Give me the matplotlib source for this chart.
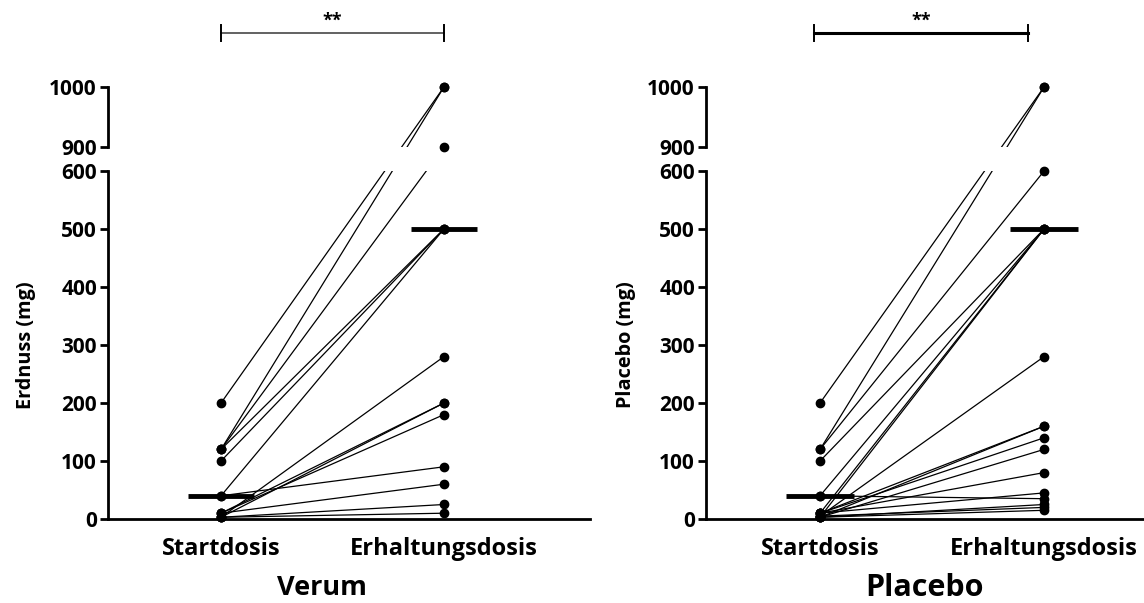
import numpy as np
import matplotlib.pyplot as plt

plt.rcParams['font.family'] = ['Open Sans', 'DejaVu Sans']
plt.rcParams['font.weight'] = 'bold'

groups = ['Startdosis', 'Erhaltungsdosis']

# Verum: Startdosis -> Erhaltungsdosis (mg), one pair per Patient
verum_start = [200, 120, 120, 120, 100, 40, 40, 3, 10, 3, 10, 10, 3, 3]
verum_end = [1000, 1000, 900, 500, 500, 500, 90, 280, 200, 200, 180, 60, 25, 10]
verum_median = [40, 500]

# Placebo
placebo_start = [200, 120, 120, 100, 40, 10, 3, 5, 10, 3, 10, 3, 10, 40, 10, 3, 5, 3]
placebo_end = [1000, 1000, 600, 500, 500, 500, 500, 280, 160, 160, 140, 120, 80, 35, 45, 25, 20, 15]
placebo_median = [40, 500]

yticks = [0, 100, 200, 300, 400, 500, 600, 900, 1000]

# broken axis: 600..900 squeezed into a small gap
G = 0.138
K = 1.034


def fwd(v):
    v = np.asarray(v, dtype=float)
    return np.where(v <= 600, v,
                    np.where(v <= 900, 600 + (v - 600) * G,
                             600 + 300 * G + (v - 900) * K))


def inv(u):
    u = np.asarray(u, dtype=float)
    top = 600 + 300 * G
    return np.where(u <= 600, u,
                    np.where(u <= top, 600 + (u - 600) / G,
                             900 + (u - top) / K))


W, H = 1144, 603
fig = plt.figure(figsize=(W / 100, H / 100), dpi=100)


def panel(rect, xlim, start, end, median, ylabel, xlabel, ylab_x, xlab_pos, xlab_size,
          bracket, bcolor, blw):
    ax = fig.add_axes(rect)
    ax.set_yscale('function', functions=(fwd, inv))
    ax.set_ylim(0, 1000)
    ax.set_xlim(*xlim)
    ax.set_axisbelow(False)

    for s, e in zip(start, end):
        ax.plot([0, 1], [s, e], color='black', lw=0.9, zorder=2)
    ax.plot(np.zeros(len(start)), start, 'o', color='black', ms=6, zorder=4, clip_on=False)
    ax.plot(np.ones(len(end)), end, 'o', color='black', ms=6, zorder=4, clip_on=False)
    for i, m in enumerate(median):
        ax.plot([i - 0.15, i + 0.15], [m, m], color='black', lw=3.5, zorder=3,
                solid_capstyle='butt')

    # hide everything inside the axis break
    ax.axhspan(600, 900, color='white', zorder=2.2, lw=0)

    for sp in ['top', 'right', 'left']:
        ax.spines[sp].set_visible(False)
    ax.spines['bottom'].set_linewidth(2)
    yt = ax.get_yaxis_transform()
    ax.plot([0, 0], [0, 600], color='black', lw=2, transform=yt, clip_on=False, zorder=5)
    ax.plot([0, 0], [900, 1000], color='black', lw=2, transform=yt, clip_on=False, zorder=5)

    ax.set_yticks(yticks)
    ax.set_yticks([600, 900], minor=True)
    ax.tick_params(axis='y', which='major', length=6, width=2, pad=2, labelsize=15)
    ax.tick_params(axis='y', which='minor', direction='in', length=6.5, width=2)
    ax.set_xticks([0, 1])
    ax.set_xticklabels(groups)
    ax.tick_params(axis='x', length=0, pad=13, labelsize=17)

    ax.set_ylabel(ylabel, fontsize=14.3, fontweight='bold')
    ax.yaxis.set_label_coords(ylab_x, 0.403)
    ax.set_xlabel(xlabel, fontsize=xlab_size, fontweight='bold')
    ax.xaxis.set_label_coords(*xlab_pos)

    # significance bracket
    xt = ax.get_xaxis_transform()
    b0, b1 = bracket
    yb = 1.125
    ax.plot([b0, b1], [yb, yb], color=bcolor, lw=blw, transform=xt, clip_on=False)
    for bx in (b0, b1):
        ax.plot([bx, bx], [yb - 0.018, yb + 0.018], color='black', lw=1.4,
                transform=xt, clip_on=False)
    ax.text((b0 + b1) / 2, yb + 0.008, '**', transform=xt, ha='center', va='bottom',
            fontsize=13, fontweight='bold')
    return ax


bottom = (H - 519) / H
height = 432 / H
panel([108 / W, bottom, 482 / W, height], (-0.507, 1.655), verum_start, verum_end,
      verum_median, 'Erdnuss (mg)', 'Verum', -0.15, (0.444, -0.13), 19.5,
      (0, 1), '#555555', 1.3)
panel([706 / W, bottom, 438 / W, height], (-0.509, 1.446), placebo_start, placebo_end,
      placebo_median, 'Placebo (mg)', 'Placebo', -0.16, (0.5, -0.124), 22,
      (-0.027, 0.929), 'black', 2.2)

fig.savefig('out.png', dpi=100)
